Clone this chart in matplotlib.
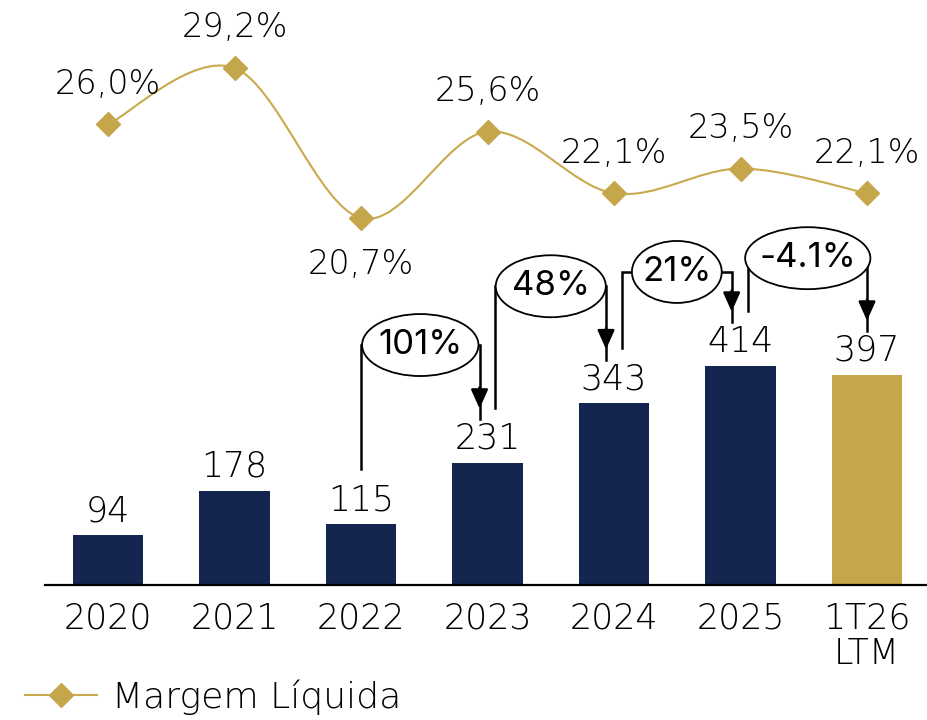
import matplotlib
matplotlib.use('Agg')
import matplotlib.pyplot as plt
from matplotlib.path import Path
from matplotlib.patches import PathPatch, Ellipse
from matplotlib.lines import Line2D

# dados
anos = ['2020', '2021', '2022', '2023', '2024', '2025', '1T26\nLTM']
lucro = [94, 178, 115, 231, 343, 414, 397]
margem = [26.0, 29.2, 20.7, 25.6, 22.1, 23.5, 22.1]
margem_txt = ['26,0%', '29,2%', '20,7%', '25,6%', '22,1%', '23,5%', '22,1%']
crescimento = ['101%', '48%', '21%', '-4.1%']
pares = [(2, 3), (3, 4), (4, 5), (5, 6)]

# layout das setas (nivel da elipse, largura da elipse, deslocamento das linhas)
nivel_elipse = [453, 564, 591, 617]
largura_elipse = [0.92, 0.87, 0.71, 0.99]
desl_esq = [0.0, 0.063, 0.063, 0.063]
desl_dir = [-0.063, -0.063, -0.07, 0.0]

azul = '#14264f'
dourado = '#c6a64a'
linha_cor = '#c9a94d'

plt.rcParams['font.family'] = ['DejaVu Sans']
leve = 200

fig = plt.figure(figsize=(9.28, 7.2), dpi=100)
ax = fig.add_axes([45/928, 135/720, 883/928, 585/720])
x = list(range(len(anos)))
cores = [azul]*6 + [dourado]
ax.bar(x, lucro, width=0.555, color=cores, zorder=2)
ax.set_xlim(-0.498, 6.482)
ax.set_ylim(0, 1104.4)
for s in ['top', 'right', 'left']:
    ax.spines[s].set_visible(False)
ax.spines['bottom'].set_linewidth(1.6)
ax.set_yticks([])
ax.set_xticks(x)
ax.set_xticklabels(anos, fontsize=25, fontweight=leve, linespacing=1.05)
ax.tick_params(axis='x', length=0, pad=12)

for i, v in enumerate(lucro):
    ax.annotate(str(v), (i, v), xytext=(0, 10), textcoords='offset points',
                ha='center', va='baseline', fontsize=25, fontweight=leve)

# setas de crescimento
for k, (a, b) in enumerate(pares):
    xl = a + desl_esq[k]
    xr = b + desl_dir[k]
    ye = nivel_elipse[k]
    y0 = lucro[a] + 104
    tip = lucro[b] + 102
    ax.plot([xl, xl, xr, xr], [y0, ye, ye, tip - 20], color='black', lw=1.8,
            solid_joinstyle='miter', zorder=3)
    ax.annotate('', xy=(xr, tip), xytext=(xr, tip + 40),
                arrowprops=dict(arrowstyle='-|>,head_length=0.58,head_width=0.26',
                                mutation_scale=20, color='black', lw=1.8,
                                shrinkA=0, shrinkB=0), zorder=3)
    ax.add_patch(Ellipse(((xl + xr)/2, ye), largura_elipse[k], 117,
                         facecolor='white', edgecolor='black', lw=1.3, zorder=4))
    ax.text((xl + xr)/2, ye, crescimento[k], ha='center', va='center',
            fontsize=25, family='Inter', fontweight=400, zorder=5)

# margem liquida
ax2 = ax.twinx()
ax2.set_ylim(-0.09, 33.05)
ax2.axis('off')
verts = [(x[0], margem[0])]
codes = [Path.MOVETO]
n = len(x)
for i in range(n - 1):
    p0 = (x[max(i-1, 0)], margem[max(i-1, 0)])
    p1 = (x[i], margem[i])
    p2 = (x[i+1], margem[i+1])
    p3 = (x[min(i+2, n-1)], margem[min(i+2, n-1)])
    c1 = (p1[0] + (p2[0]-p0[0])/6, p1[1] + (p2[1]-p0[1])/6)
    c2 = (p2[0] - (p3[0]-p1[0])/6, p2[1] - (p3[1]-p1[1])/6)
    verts += [c1, c2, p2]
    codes += [Path.CURVE4]*3
ax2.add_patch(PathPatch(Path(verts, codes), facecolor='none',
                        edgecolor=linha_cor, lw=1.5, zorder=3))
ax2.plot(x, margem, 'D', color=dourado, markersize=12, zorder=4)
for i, v in enumerate(margem):
    if i == 2:
        ax2.annotate(margem_txt[i], (i, v), xytext=(0, -40), textcoords='offset points',
                     ha='center', va='baseline', fontsize=24, fontweight=leve)
    else:
        ax2.annotate(margem_txt[i], (i, v), xytext=(0, 22), textcoords='offset points',
                     ha='center', va='baseline', fontsize=24, fontweight=leve)

handle = Line2D([], [], color=linha_cor, lw=1.5, marker='D', markersize=12,
                markerfacecolor=dourado, markeredgecolor=dourado)
leg = fig.legend([handle], ['Margem Líquida'], loc='center left',
                 bbox_to_anchor=(25/928, 23/720), frameon=False, borderpad=0,
                 borderaxespad=0, handlelength=2.0, handletextpad=0.4,
                 prop={'size': 26, 'weight': leve})

fig.savefig('out.png', dpi=100)
